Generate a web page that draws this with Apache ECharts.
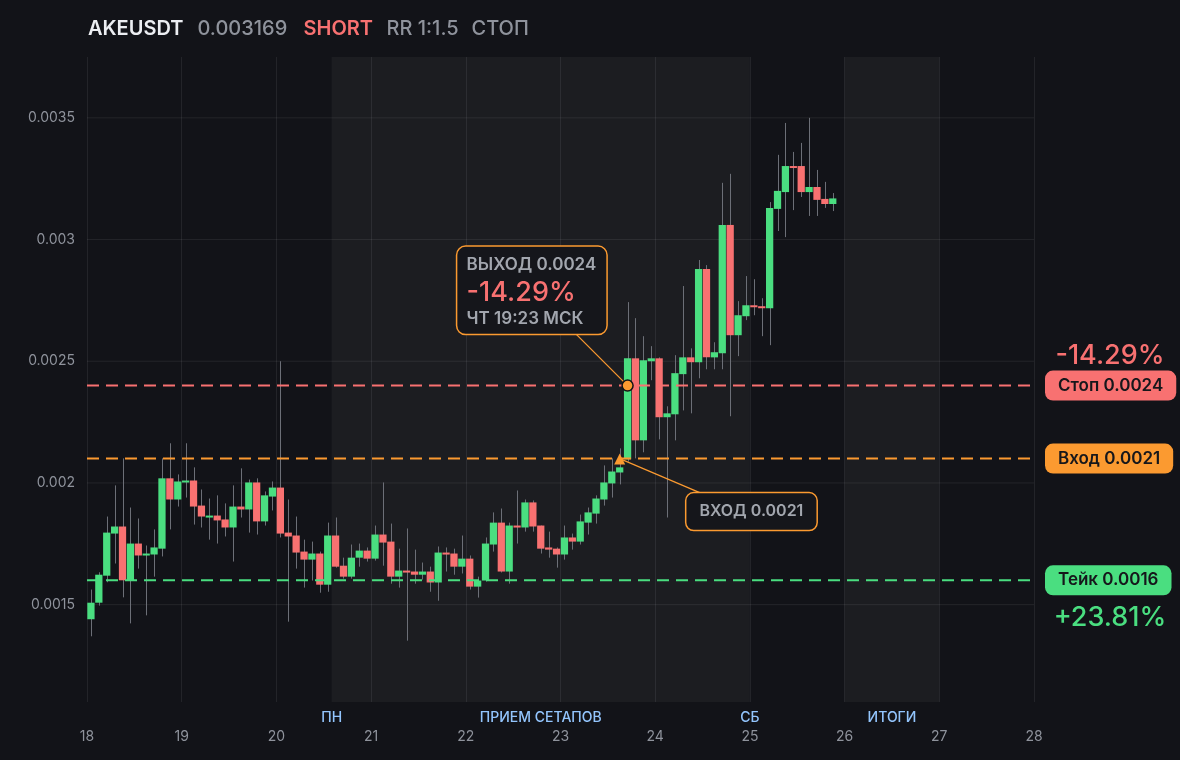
<!DOCTYPE html>
<html>
<head>
<meta charset="utf-8">
<script src="https://cdn.jsdelivr.net/npm/echarts@6/dist/echarts.min.js"></script>
<style>
html,body{margin:0;padding:0;background:#121318;}
#c{width:1180px;height:760px;}
</style>
</head>
<body>
<div id="c"></div>
<script>
// ---------- DATA ----------
const symbol = 'AKEUSDT';
const lastPrice = '0.003169';
const side = 'SHORT';
const rrText = 'RR 1:1.5';
const statusText = 'СТОП';

const dayTicks = [18, 19, 20, 21, 22, 23, 24, 25, 26, 27, 28];
const firstDay = 18;          // first candle starts at day 18, 00:00
const candleHours = 2;        // 2h candles

const openV = [
  0.001440,0.001508,0.001619,0.001792,0.001821,0.001600,0.001751,0.001702,0.001706,0.001730,
  0.002019,0.001932,0.002002,0.002010,0.001907,0.001858,0.001866,0.001850,0.001817,0.001903,
  0.001891,0.002002,0.001842,0.001944,0.001981,0.001796,0.001784,0.001718,0.001685,0.001710,
  0.001582,0.001784,0.001660,0.001615,0.001693,0.001722,0.001689,0.001788,0.001759,0.001615,
  0.001640,0.001636,0.001623,0.001636,0.001591,0.001714,0.001710,0.001656,0.001689,0.001574,
  0.001599,0.001747,0.001837,0.001636,0.001825,0.001817,0.001920,0.001825,0.001735,0.001730,
  0.001706,0.001776,0.001759,0.001837,0.001874,0.001932,0.001998,0.002043,0.002097,0.002512,
  0.002175,0.002500,0.002512,0.002270,0.002282,0.002447,0.002516,0.002496,0.002879,0.002516,
  0.002533,0.003060,0.002607,0.002685,0.002730,0.002726,0.002718,0.003126,0.003195,0.003302,
  0.003302,0.003195,0.003216,0.003167,0.003146
];
const closeV = [
  0.001508,0.001623,0.001796,0.001821,0.001600,0.001751,0.001702,0.001710,0.001735,0.002019,
  0.001932,0.002006,0.002010,0.001903,0.001862,0.001866,0.001846,0.001817,0.001903,0.001891,
  0.002002,0.001842,0.001949,0.001981,0.001792,0.001780,0.001714,0.001685,0.001710,0.001582,
  0.001784,0.001656,0.001615,0.001693,0.001722,0.001689,0.001788,0.001755,0.001615,0.001640,
  0.001632,0.001623,0.001636,0.001591,0.001714,0.001706,0.001656,0.001689,0.001574,0.001599,
  0.001751,0.001837,0.001636,0.001825,0.001817,0.001920,0.001821,0.001730,0.001726,0.001706,
  0.001776,0.001759,0.001842,0.001879,0.001936,0.002002,0.002047,0.002064,0.002512,0.002175,
  0.002504,0.002512,0.002270,0.002286,0.002451,0.002516,0.002496,0.002879,0.002516,0.002537,
  0.003060,0.002607,0.002689,0.002730,0.002722,0.002718,0.003130,0.003200,0.003302,0.003294,
  0.003195,0.003216,0.003163,0.003146,0.003169
];
const highV = [
  0.001562,0.001633,0.001862,0.001990,0.002101,0.001899,0.001854,0.001743,0.001809,0.002101,
  0.002163,0.002035,0.002163,0.002064,0.001973,0.001936,0.001949,0.001916,0.001990,0.002060,
  0.002014,0.002019,0.001965,0.002006,0.002500,0.001932,0.001862,0.001767,0.001759,0.001718,
  0.001837,0.001858,0.001693,0.001747,0.001751,0.001735,0.001825,0.002002,0.001833,0.001730,
  0.001813,0.001726,0.001673,0.001656,0.001739,0.001735,0.001730,0.001784,0.001702,0.001615,
  0.001776,0.001879,0.001895,0.001837,0.001969,0.001932,0.001928,0.001825,0.001800,0.001735,
  0.001825,0.001792,0.001870,0.001899,0.001949,0.002072,0.002101,0.002142,0.002743,0.002677,
  0.002603,0.002562,0.002516,0.002315,0.002525,0.002809,0.002553,0.002916,0.002895,0.002578,
  0.003233,0.003270,0.002747,0.002850,0.002837,0.002759,0.003154,0.003348,0.003479,0.003360,
  0.003397,0.003500,0.003286,0.003237,0.003191
];
const lowV = [
  0.001370,0.001496,0.001592,0.001669,0.001530,0.001423,0.001648,0.001456,0.001615,0.001698,
  0.001809,0.001903,0.001940,0.001829,0.001817,0.001767,0.001751,0.001780,0.001677,0.001858,
  0.001796,0.001788,0.001825,0.001887,0.001776,0.001430,0.001648,0.001570,0.001599,0.001549,
  0.001553,0.001652,0.001607,0.001607,0.001656,0.001677,0.001681,0.001660,0.001586,0.001570,
  0.001352,0.001586,0.001603,0.001553,0.001516,0.001636,0.001623,0.001628,0.001562,0.001529,
  0.001595,0.001718,0.001632,0.001586,0.001751,0.001800,0.001800,0.001710,0.001693,0.001652,
  0.001685,0.001726,0.001747,0.001788,0.001833,0.001907,0.001940,0.001994,0.002088,0.002101,
  0.002126,0.002422,0.002179,0.001858,0.002175,0.002298,0.002286,0.002430,0.002467,0.002467,
  0.002467,0.002274,0.002521,0.002669,0.002689,0.002603,0.002566,0.003035,0.003010,0.003121,
  0.003175,0.003097,0.003097,0.003130,0.003117
];

const stopPrice = 0.0024;
const entryPrice = 0.0021;
const takePrice = 0.0016;
const stopLabel = 'Стоп 0.0024';
const entryLabel = 'Вход 0.0021';
const takeLabel = 'Тейк 0.0016';
const stopPct = '-14.29%';
const takePct = '+23.81%';
const entryCandle = 67;
const exitCandle = 68;
const exitLines = ['ВЫХОД 0.0024', '-14.29%', 'ЧТ 19:23 МСК'];
const entryBoxText = 'ВХОД 0.0021';

const bands = [[20.5833, 25], [26, 27]];
const bandLabels = [
  { text: 'ПН', x: 20.5833 },
  { text: 'ПРИЕМ СЕТАПОВ', x: 22.7917 },
  { text: 'СБ', x: 25 },
  { text: 'ИТОГИ', x: 26.5 }
];
const yGridValues = [0.0015, 0.002, 0.0025, 0.003, 0.0035];
const yMin = 0.0011, yMax = 0.00375;
const xMin = 18, xMax = 28;

// ---------- STYLE ----------
const GREEN = '#4ade80', RED = '#f87171', ORANGE = '#fb9a30';
const GRAY = '#8f939c', WICK = '#6c6f77', BG = '#121318';
const FONT = 'Inter, "Noto Sans", sans-serif';
const GRIDC = 'rgba(255,255,255,0.075)';

const candleTime = openV.map((_, i) => firstDay + (i * candleHours + candleHours / 2) / 24);
const candleData = openV.map((o, i) => [candleTime[i], o, closeV[i], lowV[i], highV[i]]);

const chart = echarts.init(document.getElementById('c'), null, { renderer: 'canvas' });

// horizontal grid lines as flat line series
const gridSeries = yGridValues.map(v => ({
  type: 'line', z: 1, silent: true, symbol: 'none', animation: false,
  data: [[xMin, v], [xMax, v]],
  lineStyle: { color: GRIDC, width: 1, type: 'solid' },
  emphasis: { disabled: true }
}));

function levelSeries(price, color, text) {
  return {
    type: 'line', z: 5, silent: true, symbol: 'none', animation: false,
    data: [[xMin, price], [xMax, price]],
    lineStyle: { color: color, width: 2, type: [12, 7] },
    emphasis: { disabled: true },
    endLabel: {
      show: true, distance: 11, formatter: text,
      backgroundColor: color, color: '#16171b', borderRadius: 8,
      padding: [6, 13, 6, 13], fontFamily: FONT, fontSize: 17, fontWeight: 600, lineHeight: 18
    }
  };
}

const option = {
  backgroundColor: BG,
  animation: false,
  grid: { left: 87, right: 146, top: 57, bottom: 58, containLabel: false },
  xAxis: {
    type: 'value', min: xMin, max: xMax, interval: 1,
    axisLine: { show: false }, axisTick: { show: false },
    axisLabel: { color: GRAY, fontSize: 14, fontFamily: FONT, margin: 28,
      formatter: v => dayTicks.includes(v) ? String(v) : '' },
    splitLine: { show: true, lineStyle: { color: GRIDC, width: 1 } }
  },
  yAxis: {
    type: 'value', min: yMin, max: yMax, splitNumber: 5,
    axisLine: { show: false }, axisTick: { show: false },
    axisLabel: { color: GRAY, fontSize: 14, fontFamily: FONT, margin: 12,
      showMinLabel: false, showMaxLabel: false,
      formatter: v => yGridValues.some(g => Math.abs(g - v) < 1e-9) ? String(+v.toFixed(4)) : '' },
    splitLine: { show: false }
  },
  series: [
    {
      type: 'line', data: [[xMin, yMin]], z: 1, silent: true,
      symbol: 'none', lineStyle: { opacity: 0 },
      markArea: {
        silent: true,
        itemStyle: { color: 'rgba(255,255,255,0.045)' },
        label: { show: false },
        data: bands.map(b => [{ xAxis: b[0] }, { xAxis: b[1] }])
      }
    },
    ...gridSeries,
    {
      type: 'custom', z: 3, clip: true,
      data: candleData,
      encode: { x: 0, y: [1, 2, 3, 4] },
      renderItem: function (params, api) {
        const x = api.value(0), o = api.value(1), c = api.value(2), l = api.value(3), h = api.value(4);
        const pO = api.coord([x, o]), pC = api.coord([x, c]);
        const pL = api.coord([x, l]), pH = api.coord([x, h]);
        const w = api.size([candleHours / 24, 0])[0] * 0.92;
        const cx = pO[0];
        const top = Math.min(pO[1], pC[1]);
        let hgt = Math.abs(pO[1] - pC[1]);
        if (hgt < 2) hgt = 2;
        const up = c >= o;
        const wx = Math.round(cx) + 0.5;
        return {
          type: 'group',
          children: [
            { type: 'line', shape: { x1: wx, y1: pH[1], x2: wx, y2: pL[1] },
              style: { stroke: WICK, lineWidth: 1 } },
            { type: 'rect', shape: { x: cx - w / 2, y: top, width: w, height: hgt },
              style: { fill: up ? GREEN : RED } }
          ]
        };
      }
    },
    levelSeries(stopPrice, RED, stopLabel),
    levelSeries(entryPrice, ORANGE, entryLabel),
    levelSeries(takePrice, GREEN, takeLabel)
  ]
};

chart.setOption(option);

// ---------- annotations positioned through the chart's own scales ----------
function P(x, y) { return chart.convertToPixel({ xAxisIndex: 0, yAxisIndex: 0 }, [x, y]); }
const rightEnd = P(xMax, stopPrice)[0];
const pStop = P(xMax, stopPrice), pTake = P(xMax, takePrice);
const pExit = P(candleTime[exitCandle], stopPrice);
const pEntry = P(candleTime[entryCandle], entryPrice);
const bottomY = P(xMin, yMin)[1];

const g = [];
// header
const header = [
  { t: symbol, x: 88, c: '#eceef2', w: 600 },
  { t: lastPrice, x: 197.5, c: GRAY, w: 500 },
  { t: side, x: 303.5, c: RED, w: 600 },
  { t: rrText, x: 386.5, c: GRAY, w: 500 },
  { t: statusText, x: 471.5, c: GRAY, w: 500 }
];
header.forEach(h => g.push({ type: 'text', x: h.x, y: 28.5, silent: true,
  style: { text: h.t, fill: h.c, font: h.w + ' 20px ' + FONT, textVerticalAlign: 'middle', textAlign: 'left' } }));

// band labels under the grid
bandLabels.forEach(b => g.push({ type: 'text', x: P(b.x, yMin)[0], y: bottomY + 15.5, silent: true,
  style: { text: b.text, fill: '#93c5fd', font: '500 14px ' + FONT, textAlign: 'center', textVerticalAlign: 'middle' } }));

// right-side percentages
g.push({ type: 'text', x: rightEnd + 76, y: pStop[1] - 30, silent: true,
  style: { text: stopPct, fill: RED, font: '500 27px ' + FONT, textAlign: 'center', textVerticalAlign: 'middle' } });
g.push({ type: 'text', x: rightEnd + 76, y: pTake[1] + 38, silent: true,
  style: { text: takePct, fill: GREEN, font: '500 27px ' + FONT, textAlign: 'center', textVerticalAlign: 'middle' } });

// exit annotation
const ex = pExit[0], ey = pExit[1];
g.push({ type: 'line', silent: true, z: 10, shape: { x1: ex - 51, y1: ey - 51, x2: ex, y2: ey },
  style: { stroke: ORANGE, lineWidth: 1.2 } });
g.push({ type: 'rect', silent: true, z: 11, shape: { x: ex - 171, y: ey - 139.5, width: 150.5, height: 88.5, r: 9 },
  style: { fill: '#15161b', stroke: ORANGE, lineWidth: 1.5 } });
g.push({ type: 'text', silent: true, z: 12, x: ex - 161, y: ey - 121,
  style: { text: exitLines[0], fill: '#a2a6ae', font: '600 17px ' + FONT, textVerticalAlign: 'middle' } });
g.push({ type: 'text', silent: true, z: 12, x: ex - 161, y: ey - 93,
  style: { text: exitLines[1], fill: RED, font: '500 27px ' + FONT, textVerticalAlign: 'middle' } });
g.push({ type: 'text', silent: true, z: 12, x: ex - 161, y: ey - 67,
  style: { text: exitLines[2], fill: '#a2a6ae', font: '600 17px ' + FONT, textVerticalAlign: 'middle' } });
g.push({ type: 'circle', silent: true, z: 13, shape: { cx: ex, cy: ey, r: 5.5 },
  style: { fill: ORANGE, stroke: '#111216', lineWidth: 1.5 } });

// entry annotation
const nx = pEntry[0], ny = pEntry[1];
g.push({ type: 'line', silent: true, z: 10, shape: { x1: nx, y1: ny, x2: nx + 80, y2: ny + 34 },
  style: { stroke: ORANGE, lineWidth: 1.2 } });
g.push({ type: 'polygon', silent: true, z: 13, shape: { points: [[nx, ny - 5], [nx + 5.5, ny + 6], [nx - 5.5, ny + 6]] },
  style: { fill: ORANGE } });
g.push({ type: 'rect', silent: true, z: 11, shape: { x: nx + 66, y: ny + 34, width: 131.5, height: 38, r: 8 },
  style: { fill: '#15161b', stroke: ORANGE, lineWidth: 1.5 } });
g.push({ type: 'text', silent: true, z: 12, x: nx + 66 + 65.75, y: ny + 53,
  style: { text: entryBoxText, fill: '#a2a6ae', font: '600 16px ' + FONT, textAlign: 'center', textVerticalAlign: 'middle' } });

chart.setOption({ graphic: g });
</script>
</body>
</html>
